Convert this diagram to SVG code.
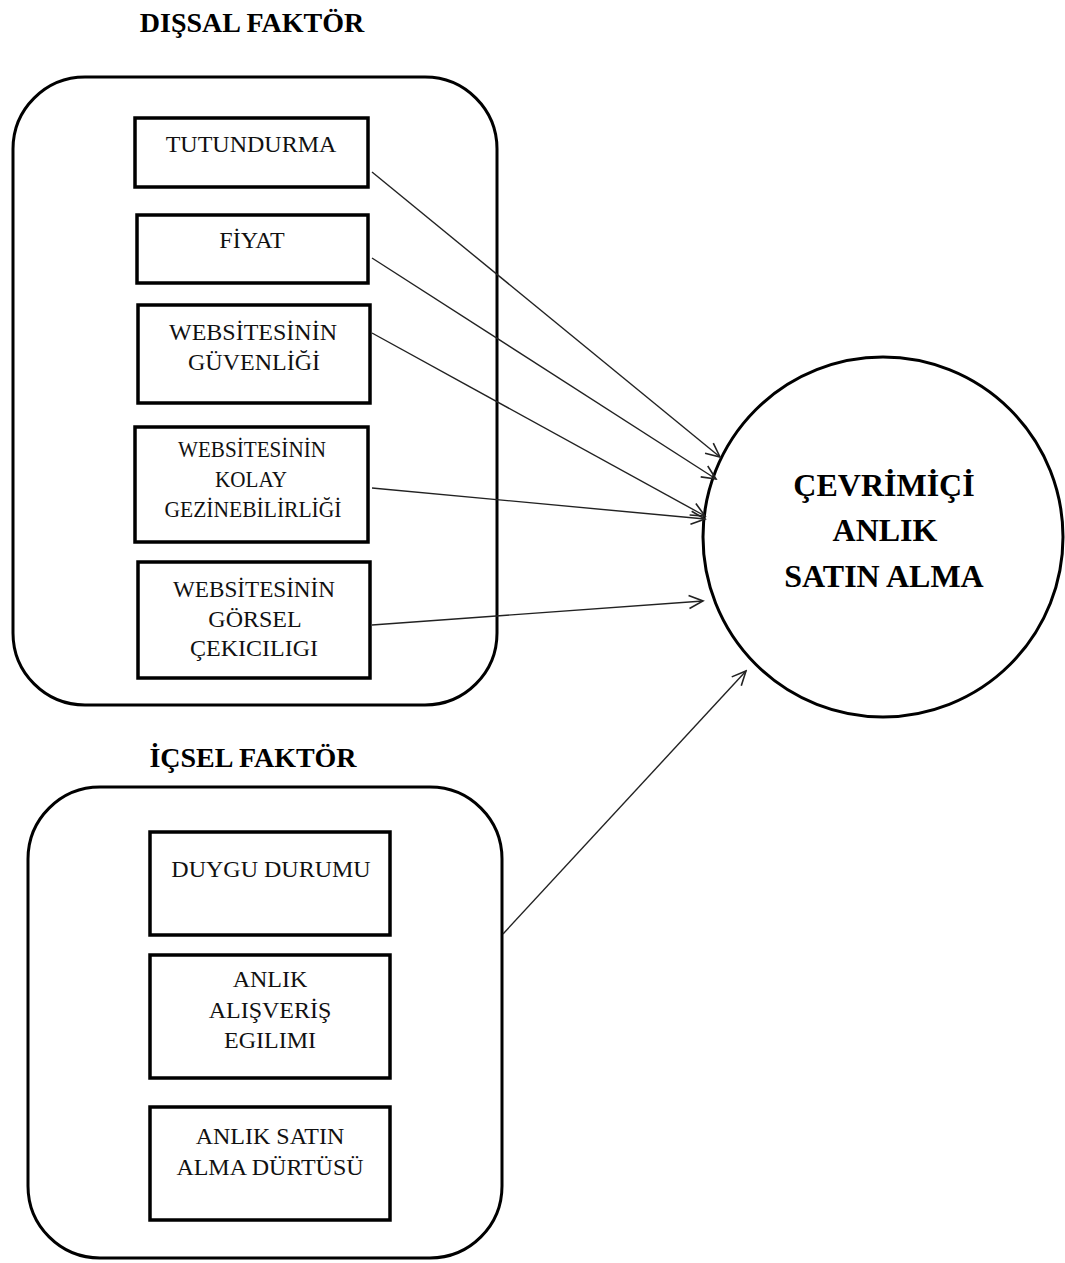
<svg xmlns="http://www.w3.org/2000/svg" width="1065" height="1263" viewBox="0 0 1065 1263">
<style>
.outer{fill:none;stroke:#000;stroke-width:3}
.box{fill:#fff;stroke:#000;stroke-width:3.5}
.circ{fill:#fff;stroke:#000;stroke-width:3}
.t{font-family:'Liberation Serif','DejaVu Serif',serif;font-size:24px;fill:#111;text-anchor:middle}
.title{font-family:'Liberation Serif','DejaVu Serif',serif;font-size:28px;font-weight:bold;fill:#000;text-anchor:middle}
.ct{font-family:'Liberation Serif','DejaVu Serif',serif;font-size:32px;font-weight:bold;fill:#000;text-anchor:middle}
.conn{stroke:#222;stroke-width:1.4;fill:none;marker-end:url(#arr)}
</style>
<defs>
<marker id="arr" markerUnits="userSpaceOnUse" markerWidth="18" markerHeight="16" refX="16" refY="8" orient="auto">
<path d="M2,1.5 L16,8 L2,14.5" fill="none" stroke="#222" stroke-width="1.6"/>
</marker>
</defs>
<rect width="1065" height="1263" fill="#fff"/>

<g id="dissal-title"><text class="title" x="252" y="32">DIŞSAL FAKTÖR</text></g>
<g id="dissal-group"><rect class="outer" x="13" y="77" width="484" height="628" rx="72" ry="72"/></g>

<g id="tutundurma"><rect class="box" x="135" y="118" width="233" height="69"/><text class="t" x="251" y="152">TUTUNDURMA</text></g>
<g id="fiyat"><rect class="box" x="137" y="215" width="231" height="68"/><text class="t" x="252" y="248">FİYAT</text></g>
<g id="guvenlik"><rect class="box" x="138" y="305" width="232" height="98"/><text class="t" x="253" y="340">WEBSİTESİNİN</text><text class="t" x="254" y="370">GÜVENLİĞİ</text></g>
<g id="gezinebilirlik"><rect class="box" x="135" y="427" width="233" height="115"/><text class="t" x="252" y="457" textLength="148" lengthAdjust="spacingAndGlyphs">WEBSİTESİNİN</text><text class="t" x="251" y="487" textLength="72" lengthAdjust="spacingAndGlyphs">KOLAY</text><text class="t" x="253" y="517" textLength="177" lengthAdjust="spacingAndGlyphs">GEZİNEBİLİRLİĞİ</text></g>
<g id="gorsel"><rect class="box" x="138" y="562" width="232" height="116"/><text class="t" x="254" y="597" textLength="162" lengthAdjust="spacingAndGlyphs">WEBSİTESİNİN</text><text class="t" x="255" y="627">GÖRSEL</text><text class="t" x="254" y="656">ÇEKICILIGI</text></g>

<g id="icsel-title"><text class="title" x="253" y="767">İÇSEL FAKTÖR</text></g>
<g id="icsel-group"><rect class="outer" x="28" y="787" width="474" height="471" rx="72" ry="72"/></g>

<g id="duygu"><rect class="box" x="150" y="832" width="240" height="103"/><text class="t" x="271" y="877">DUYGU DURUMU</text></g>
<g id="egilim"><rect class="box" x="150" y="955" width="240" height="123"/><text class="t" x="270" y="987">ANLIK</text><text class="t" x="270" y="1018">ALIŞVERİŞ</text><text class="t" x="270" y="1048">EGILIMI</text></g>
<g id="durtu"><rect class="box" x="150" y="1107" width="240" height="113"/><text class="t" x="270" y="1144">ANLIK SATIN</text><text class="t" x="270" y="1175">ALMA DÜRTÜSÜ</text></g>

<g id="cevrimici"><ellipse class="circ" cx="883" cy="537" rx="180" ry="180"/><text class="ct" x="884" y="496">ÇEVRİMİÇİ</text><text class="ct" x="885" y="541">ANLIK</text><text class="ct" x="884" y="587">SATIN ALMA</text></g>

<g id="connectors">
<line class="conn" x1="372" y1="172" x2="720" y2="457"/>
<line class="conn" x1="372" y1="258" x2="716" y2="479"/>
<line class="conn" x1="372" y1="333" x2="705" y2="516"/>
<line class="conn" x1="372" y1="488" x2="705" y2="519"/>
<line class="conn" x1="372" y1="625" x2="703" y2="601"/>
<line class="conn" x1="503" y1="934" x2="746" y2="671"/>
</g>
</svg>
